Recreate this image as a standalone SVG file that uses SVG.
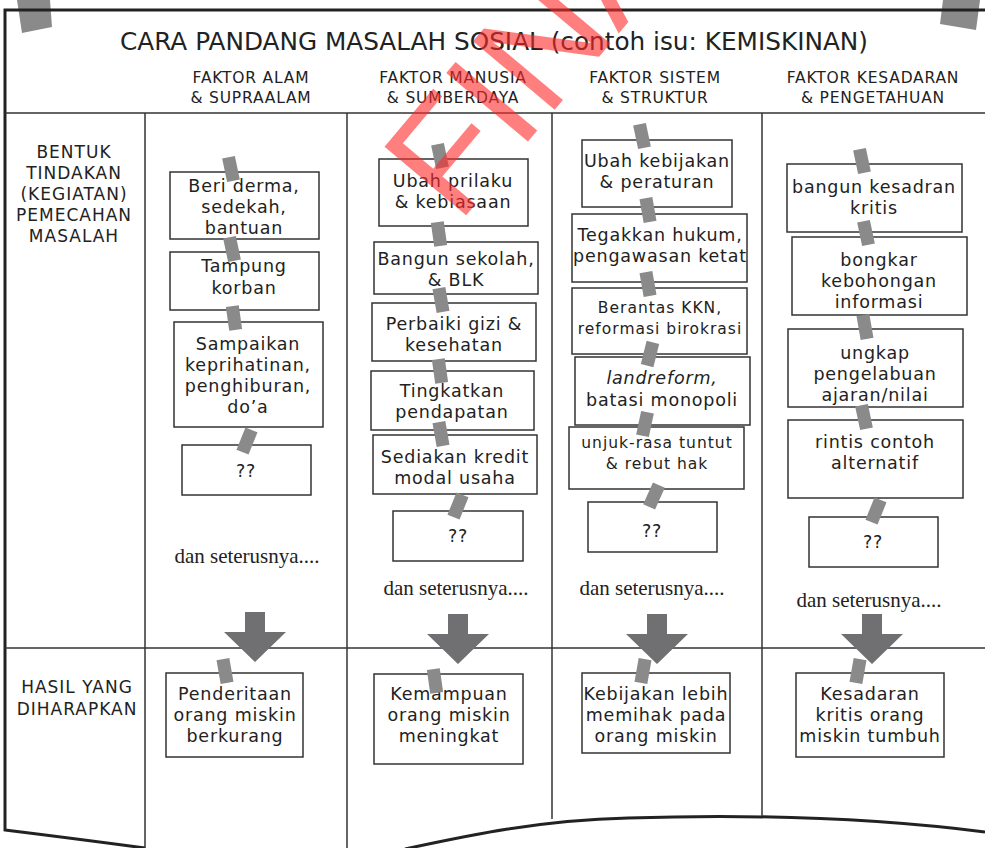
<svg xmlns="http://www.w3.org/2000/svg" width="985" height="848" viewBox="0 0 985 848">
  <style>
    .frame { fill: none; stroke: #222; stroke-width: 3; }
    .grid { fill: none; stroke: #333; stroke-width: 1.5; }
    .box { fill: #fff; stroke: #333; stroke-width: 1.5; }
    .hand { font-family: "DejaVu Sans", "Open Sans", sans-serif; fill: #222; text-anchor: middle; }
    .title { font-size: 24px; }
    .head { font-size: 15.5px; letter-spacing: 0.8px; }
    .side { font-size: 17px; letter-spacing: 1px; }
    .t { font-size: 17.5px; letter-spacing: 0.8px; }
    .ts { font-size: 15.5px; letter-spacing: 1px; }
    .serif { font-family: "Liberation Serif", serif; font-size: 21px; fill: #222; text-anchor: middle; }
    .tape { fill: #8a8a8a; }
    .arrow { fill: #707072; }
    .mark { font-family: "Liberation Sans", Arial, sans-serif; font-size: 155px; fill: #ff2a2a; fill-opacity: 0.6; }
  </style>
  <defs>
    <rect id="tape" class="tape" x="-6.5" y="-12" width="13" height="24"/>
    <path id="arrow" class="arrow" d="M-10,0 H10 V20 H31 L0,50 L-31,20 H-10 Z"/>
  </defs>

  <rect width="985" height="848" fill="#fff"/>

  <!-- corner tapes holding the sheet -->
  <polygon class="tape" points="17,0 50,0 52,27 22,33"/>
  <polygon class="tape" points="943,0 980,0 976,30 940,24"/>

  <!-- sheet frame and grid -->
  <g id="frame">
    <path class="frame" d="M985,10 H5 V830 Q70,838 145,848"/>
    <path class="frame" d="M405,849 C470,835 540,820 628,818 C720,815 850,815 985,832"/>
    <line class="grid" x1="5" y1="113" x2="985" y2="113"/>
    <line class="grid" x1="5" y1="648" x2="985" y2="648"/>
    <line class="grid" x1="145" y1="113" x2="145" y2="848"/>
    <line class="grid" x1="347" y1="113" x2="347" y2="848"/>
    <line class="grid" x1="552" y1="113" x2="552" y2="819"/>
    <line class="grid" x1="762" y1="113" x2="762" y2="816"/>
  </g>

  <!-- headings -->
  <g id="title">
    <text class="hand title" x="494" y="50" textLength="748" lengthAdjust="spacingAndGlyphs">CARA PANDANG MASALAH SOSIAL (contoh isu: KEMISKINAN)</text>
  </g>
  <g id="col-heads" class="hand head">
    <text x="251" y="83">FAKTOR ALAM</text><text x="251" y="103">&amp; SUPRAALAM</text>
    <text x="453" y="83">FAKTOR MANUSIA</text><text x="453" y="103">&amp; SUMBERDAYA</text>
    <text x="655" y="83">FAKTOR SISTEM</text><text x="655" y="103">&amp; STRUKTUR</text>
    <text x="873" y="83">FAKTOR KESADARAN</text><text x="873" y="103">&amp; PENGETAHUAN</text>
  </g>
  <g id="row-heads" class="hand side">
    <text x="74" y="158">BENTUK</text>
    <text x="74" y="179">TINDAKAN</text>
    <text x="74" y="200">(KEGIATAN)</text>
    <text x="74" y="221">PEMECAHAN</text>
    <text x="74" y="242">MASALAH</text>
    <text x="77" y="693">HASIL YANG</text>
    <text x="77" y="715">DIHARAPKAN</text>
  </g>

  <!-- column 1: faktor alam -->
  <g id="a1"><rect class="box" x="170" y="172" width="149" height="67"/>
    <text class="hand t" x="244" y="192">Beri derma,</text><text class="hand t" x="244" y="213">sedekah,</text><text class="hand t" x="244" y="234">bantuan</text></g>
  <g id="a2"><rect class="box" x="170" y="252" width="149" height="58"/>
    <text class="hand t" x="244" y="272">Tampung</text><text class="hand t" x="244" y="294">korban</text></g>
  <g id="a3"><rect class="box" x="174" y="322" width="149" height="105"/>
    <text class="hand t" x="248" y="350">Sampaikan</text><text class="hand t" x="248" y="371">keprihatinan,</text><text class="hand t" x="248" y="392">penghiburan,</text><text class="hand t" x="248" y="413">do’a</text></g>
  <g id="a4"><rect class="box" x="182" y="445" width="129" height="50"/>
    <text class="hand t" x="246" y="477">??</text></g>
  <text class="serif" x="247" y="563">dan seterusnya....</text>

  <!-- column 2: faktor manusia -->
  <g id="b1"><rect class="box" x="379" y="159" width="149" height="67"/>
    <text class="hand t" x="453" y="187">Ubah prilaku</text><text class="hand t" x="453" y="208">&amp; kebiasaan</text></g>
  <g id="b2"><rect class="box" x="374" y="242" width="164" height="52"/>
    <text class="hand t" x="456" y="265">Bangun sekolah,</text><text class="hand t" x="456" y="286">&amp; BLK</text></g>
  <g id="b3"><rect class="box" x="372" y="303" width="164" height="58"/>
    <text class="hand t" x="454" y="330">Perbaiki gizi &amp;</text><text class="hand t" x="454" y="351">kesehatan</text></g>
  <g id="b4"><rect class="box" x="371" y="371" width="163" height="59"/>
    <text class="hand t" x="452" y="397">Tingkatkan</text><text class="hand t" x="452" y="418">pendapatan</text></g>
  <g id="b5"><rect class="box" x="373" y="435" width="164" height="59"/>
    <text class="hand t" x="455" y="463">Sediakan kredit</text><text class="hand t" x="455" y="484">modal usaha</text></g>
  <g id="b6"><rect class="box" x="393" y="511" width="130" height="50"/>
    <text class="hand t" x="458" y="542">??</text></g>
  <text class="serif" x="456" y="595">dan seterusnya....</text>

  <!-- column 3: faktor sistem -->
  <g id="c1"><rect class="box" x="582" y="140" width="150" height="67"/>
    <text class="hand t" x="657" y="167">Ubah kebijakan</text><text class="hand t" x="657" y="188">&amp; peraturan</text></g>
  <g id="c2"><rect class="box" x="572" y="214" width="175" height="68"/>
    <text class="hand t" x="660" y="241">Tegakkan hukum,</text><text class="hand t" x="660" y="262">pengawasan ketat</text></g>
  <g id="c3"><rect class="box" x="572" y="288" width="175" height="66"/>
    <text class="hand ts" x="660" y="313">Berantas KKN,</text><text class="hand ts" x="660" y="334">reformasi birokrasi</text></g>
  <g id="c4"><rect class="box" x="575" y="357" width="175" height="68"/>
    <text class="hand t" x="662" y="384" font-style="italic">landreform,</text><text class="hand t" x="662" y="406">batasi monopoli</text></g>
  <g id="c5"><rect class="box" x="569" y="427" width="175" height="62"/>
    <text class="hand ts" x="657" y="448">unjuk-rasa tuntut</text><text class="hand ts" x="657" y="469">&amp; rebut hak</text></g>
  <g id="c6"><rect class="box" x="588" y="502" width="129" height="50"/>
    <text class="hand t" x="652" y="537">??</text></g>
  <text class="serif" x="652" y="595">dan seterusnya....</text>

  <!-- column 4: faktor kesadaran -->
  <g id="d1"><rect class="box" x="787" y="164" width="175" height="68"/>
    <text class="hand t" x="874" y="193">bangun kesadran</text><text class="hand t" x="874" y="214">kritis</text></g>
  <g id="d2"><rect class="box" x="792" y="237" width="175" height="78"/>
    <text class="hand t" x="879" y="266">bongkar</text><text class="hand t" x="879" y="287">kebohongan</text><text class="hand t" x="879" y="308">informasi</text></g>
  <g id="d3"><rect class="box" x="788" y="329" width="175" height="78"/>
    <text class="hand t" x="875" y="359">ungkap</text><text class="hand t" x="875" y="380">pengelabuan</text><text class="hand t" x="875" y="401">ajaran/nilai</text></g>
  <g id="d4"><rect class="box" x="788" y="420" width="175" height="78"/>
    <text class="hand t" x="875" y="448">rintis contoh</text><text class="hand t" x="875" y="469">alternatif</text></g>
  <g id="d5"><rect class="box" x="809" y="517" width="129" height="50"/>
    <text class="hand t" x="873" y="548">??</text></g>
  <text class="serif" x="869" y="607">dan seterusnya....</text>

  <!-- expected results -->
  <g id="r1"><rect class="box" x="166" y="673" width="137" height="84"/>
    <text class="hand t" x="235" y="700">Penderitaan</text><text class="hand t" x="235" y="721">orang miskin</text><text class="hand t" x="235" y="742">berkurang</text></g>
  <g id="r2"><rect class="box" x="374" y="674" width="149" height="90"/>
    <text class="hand t" x="449" y="700">Kemampuan</text><text class="hand t" x="449" y="721">orang miskin</text><text class="hand t" x="449" y="742">meningkat</text></g>
  <g id="r3"><rect class="box" x="582" y="673" width="148" height="80"/>
    <text class="hand t" x="656" y="700">Kebijakan lebih</text><text class="hand t" x="656" y="721">memihak pada</text><text class="hand t" x="656" y="742">orang miskin</text></g>
  <g id="r4"><rect class="box" x="796" y="673" width="148" height="84"/>
    <text class="hand t" x="870" y="700">Kesadaran</text><text class="hand t" x="870" y="721">kritis orang</text><text class="hand t" x="870" y="742">miskin tumbuh</text></g>

  <!-- connectors: tapes linking the cards and the down arrows -->
  <g id="connectors">
    <use href="#arrow" x="255" y="612"/>
    <use href="#arrow" x="458" y="614"/>
    <use href="#arrow" x="657" y="614"/>
    <use href="#arrow" x="872" y="614"/>

    <use href="#tape" transform="translate(231,169) rotate(-12)"/>
    <use href="#tape" transform="translate(232,249) rotate(-12)"/>
    <use href="#tape" transform="translate(234,318) rotate(-8)"/>
    <use href="#tape" transform="translate(247,441) rotate(22)"/>

    <use href="#tape" transform="translate(440,156) rotate(-12)"/>
    <use href="#tape" transform="translate(439,234) rotate(-8)"/>
    <use href="#tape" transform="translate(441,300) rotate(-10)"/>
    <use href="#tape" transform="translate(440,371) rotate(-8)"/>
    <use href="#tape" transform="translate(441,434) rotate(-10)"/>
    <use href="#tape" transform="translate(458,506) rotate(22)"/>

    <use href="#tape" transform="translate(642,136) rotate(-12)"/>
    <use href="#tape" transform="translate(648,210) rotate(-10)"/>
    <use href="#tape" transform="translate(648,284) rotate(-10)"/>
    <use href="#tape" transform="translate(650,354) rotate(14)"/>
    <use href="#tape" transform="translate(645,424) rotate(12)"/>
    <use href="#tape" transform="translate(654,496) rotate(24)"/>

    <use href="#tape" transform="translate(862,161) rotate(-12)"/>
    <use href="#tape" transform="translate(866,233) rotate(-12)"/>
    <use href="#tape" transform="translate(865,327) rotate(-10)"/>
    <use href="#tape" transform="translate(864,417) rotate(-12)"/>
    <use href="#tape" transform="translate(876,511) rotate(22)"/>

    <use href="#tape" transform="translate(225,671) rotate(-10)"/>
    <use href="#tape" transform="translate(435,681) rotate(-8)"/>
    <use href="#tape" transform="translate(643,671) rotate(10)"/>
    <use href="#tape" transform="translate(858,671) rotate(10)"/>
  </g>

  <!-- stamp -->
  <text class="mark" x="458" y="225" transform="rotate(-50 458 225)">FINAL</text>
</svg>
